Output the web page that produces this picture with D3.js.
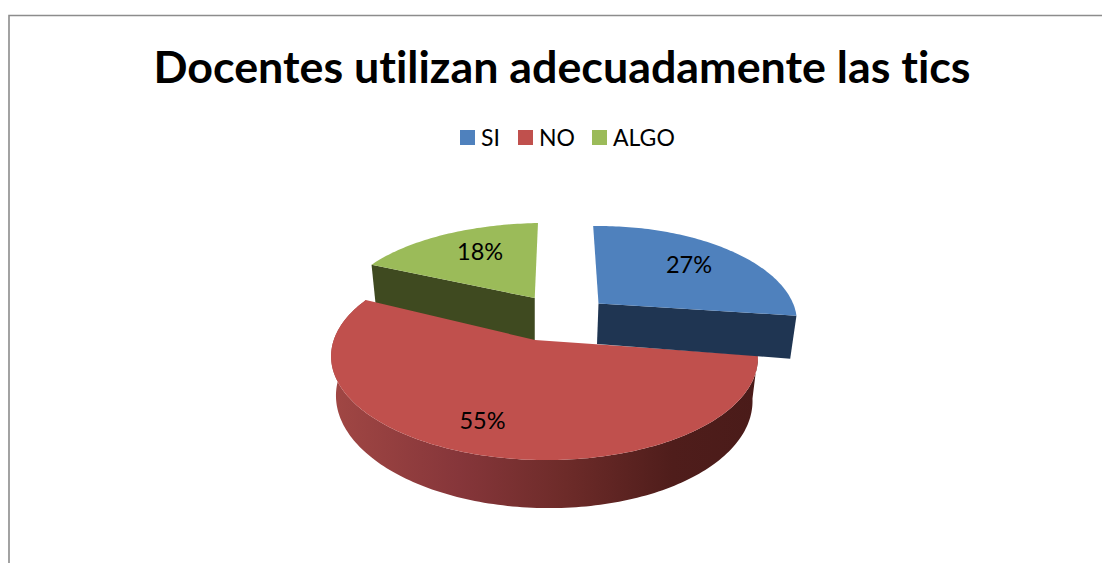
<!DOCTYPE html>
<html>
<head>
<meta charset="utf-8">
<script src="https://d3js.org/d3.v7.min.js"></script>
<style>
html,body{margin:0;padding:0;background:#fff;overflow:hidden}
svg{display:block}
text{font-family:Lato,"Open Sans",sans-serif;fill:#000;font-variant-ligatures:none;font-feature-settings:"liga" 0}
</style>
</head>
<body>
<svg id="c" width="1102" height="563"></svg>
<script>
const chartTitle = "Docentes utilizan adecuadamente las tics";
const categories = ["SI","NO","ALGO"];
const values = [27,55,18];
const labels = ["27%","55%","18%"];
const topColors = ["#4f81bd","#c0504d","#9bbb59"];
const wallColors = ["#1f3552","#7a2d2b","#3f4a20"];
const legendX = [460,518,592];
// layout of each exploded slice, in disc units
const sliceOffsetU = [0.31,0,-0.01];
const sliceOffsetV = [0.39,0,0.45];
const sliceRadiusU = [0.92,1,1.03];
const sliceRadiusV = [1,1,1];
const sliceDepth = [42.5,40,46];
const labelRadius = [0.7,0.75,0.68];
const labelTurn = [0,0,0.09];

const W=1102,H=563;
const svg=d3.select("#c");
const color=d3.scaleOrdinal(categories,topColors);
const wall=d3.scaleOrdinal(categories,wallColors);

// frame
svg.append("path").attr("d",`M9,${H}V15.5H${W}`).attr("fill","none").attr("stroke","#8c8c8c").attr("stroke-width",1.6);

// title
svg.append("text").attr("x",562).attr("y",83).attr("text-anchor","middle")
   .attr("font-size",44.8).attr("font-weight",700).text(chartTitle);

// legend
const lg=svg.append("g").selectAll("g").data(categories).join("g")
   .attr("transform",(d,i)=>`translate(${legendX[i]},130)`);
lg.append("rect").attr("width",15).attr("height",15).attr("fill",d=>color(d));
lg.append("text").attr("x",21).attr("y",16).attr("font-size",23).text(d=>d);

// perspective projection of the disc
const ox=535,oy=340,rx=210,ry=100,k=0.165,m=0.047,skewX=4,skewY=2,shrink=0.976;
function proj(u,v,d){
  const w=1+k*v-m*u;
  const s=d?shrink:1;
  return [ox+(rx*u*s+skewX*v)/w, oy+(-ry*v+skewY*u+d)/w];
}
const pie=d3.pie().sort(null).value(d=>d)(values);
const line=d3.line();
function pt(i,a,r,low){
  return proj(sliceOffsetU[i]+r*sliceRadiusU[i]*Math.sin(a),sliceOffsetV[i]+r*sliceRadiusV[i]*Math.cos(a),low?sliceDepth[i]:0);
}
function arcPts(i,a0,a1,low){
  const n=Math.max(2,Math.ceil(Math.abs(a1-a0)/0.02));
  return d3.range(n+1).map(j=>pt(i,a0+(a1-a0)*j/n,1,low));
}

// wall gradient of the large slice
const defs=svg.append("defs");
const grad=defs.append("linearGradient").attr("id","redWall");
[[0,"#a14744"],[0.3,"#86363a"],[0.55,"#6d2b29"],[0.8,"#4f1d1b"],[1,"#4a1b19"]].forEach(s=>
  grad.append("stop").attr("offset",s[0]).attr("stop-color",s[1]));

const order=[2,1,0];
const g=svg.append("g");
order.forEach(i=>{
  const p=pie[i], a0=p.startAngle, a1=p.endAngle, cat=categories[i];
  if(i===1){
    const upper=arcPts(i,a0,a1,false), lower=arcPts(i,a0,a1,true).reverse();
    g.append("path").attr("d",line(upper.concat(lower))+"Z").attr("fill","url(#redWall)");
  } else {
    const a=i===0?a1:a0;
    const q=[pt(i,0,0,false),pt(i,a,1,false),pt(i,a,1,true),pt(i,0,0,true)];
    g.append("path").attr("d",line(q)+"Z").attr("fill",wall(cat));
  }
  const face=[pt(i,0,0,false)].concat(arcPts(i,a0,a1,false));
  g.append("path").attr("d",line(face)+"Z").attr("fill",color(cat));
});

// value labels
const labelPos=(d,i)=>pt(i,(d.startAngle+d.endAngle)/2+labelTurn[i],labelRadius[i],false);
svg.append("g").selectAll("text").data(pie).join("text")
  .attr("text-anchor","middle").attr("dominant-baseline","central").attr("font-size",23.5)
  .attr("x",(d,i)=>labelPos(d,i)[0])
  .attr("y",(d,i)=>labelPos(d,i)[1])
  .text((d,i)=>labels[i]);
</script>
</body>
</html>
